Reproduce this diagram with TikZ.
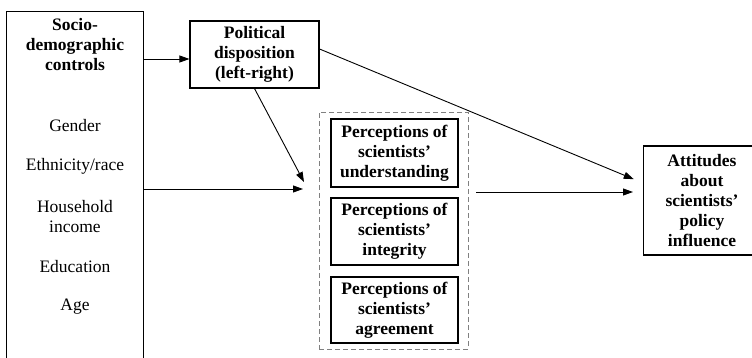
\documentclass[tikz,border=0pt]{standalone}
\usepackage{fontspec}
\setmainfont{Liberation Serif}
\usetikzlibrary{arrows.meta}
\begin{document}
\begin{tikzpicture}[x=1pt,y=-1pt,
 box/.style={draw,line width=1.1pt,inner sep=0pt,align=center,font=\fontsize{17.5}{20}\selectfont\bfseries},
 lbl/.style={inner sep=0pt,align=center,font=\fontsize{17.5}{20}\selectfont},
 blbl/.style={lbl,font=\fontsize{17.5}{20}\selectfont\bfseries},
 arr/.style={line width=0.9pt,-{Triangle[length=10pt,width=7pt]}}]
\useasboundingbox (0,0) rectangle (752,357);
% left panel (runs past the bottom edge)
\node[draw,line width=1.1pt,minimum width=137pt,minimum height=360pt,anchor=north west,inner sep=0pt] (socio) at (6,11) {};
\node[blbl] (sociot) at (75,45) {Socio-\\demographic\\controls};
\node[lbl] (gender) at (75,126) {Gender};
\node[lbl] (ethn) at (75,166) {Ethnicity/race};
\node[lbl] (income) at (75,217) {Household\\income};
\node[lbl] (edu) at (75,267) {Education};
\node[lbl] (age) at (75,307) {Age};
% political disposition
\node[box,minimum width=129pt,minimum height=67pt] (pol) at (254.5,54.5) {Political\\disposition\\(left-right)};
% dashed group
\node[draw=gray,dash pattern=on 5pt off 3pt,line width=1pt,minimum width=149pt,minimum height=237pt,inner sep=0pt] (grp) at (393.5,230.5) {};
\node[box,minimum width=127pt,minimum height=68pt] (p1) at (394.5,153) {Perceptions of\\scientists’\\understanding};
\node[box,minimum width=127pt,minimum height=67pt] (p2) at (394.5,231.5) {Perceptions of\\scientists’\\integrity};
\node[box,minimum width=127pt,minimum height=66pt] (p3) at (394.5,310) {Perceptions of\\scientists’\\agreement};
% attitudes (runs past the right edge)
\node[box,minimum width=118pt,minimum height=109pt,anchor=west] (att) at (643,200.5) {};
\node[blbl] (attt) at (702,200.5) {Attitudes\\about\\scientists’\\policy\\influence};
% connectors
\draw[arr] (socio.east |- 0,59) -- (pol.west |- 0,59);
\coordinate (in1) at (303,189);
\draw[arr] (socio.east |- in1) -- (in1);
\coordinate (in2) at (304,182);
\draw[arr] (pol.south) -- (in2);
\coordinate (out1) at (476,192);
\draw[arr,shorten >=10pt] (out1) -- (att.west |- out1);
\draw[arr,shorten >=10pt] (pol.east |- 0,49) -- (att.west |- 0,183);
\end{tikzpicture}
\end{document}
